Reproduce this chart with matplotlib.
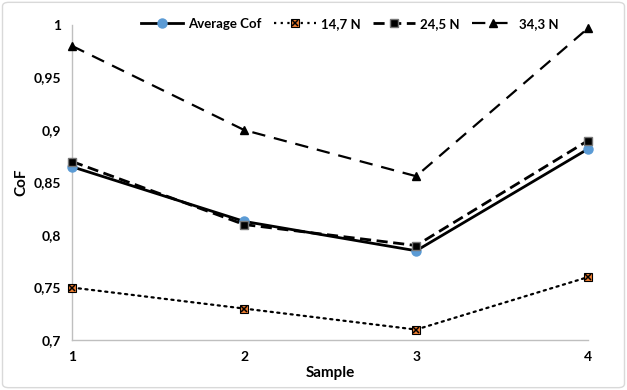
import matplotlib.pyplot as plt
from matplotlib.patches import FancyBboxPatch
from matplotlib.lines import Line2D

plt.rcParams['font.family'] = ['Lato', 'DejaVu Sans']
plt.rcParams['font.weight'] = 'bold'

samples = [1, 2, 3, 4]
avg_cof = [0.865, 0.813, 0.785, 0.882]
cof_147 = [0.75, 0.73, 0.71, 0.76]
cof_245 = [0.87, 0.81, 0.79, 0.89]
cof_343 = [0.98, 0.90, 0.856, 0.997]
yticks = [0.7, 0.75, 0.8, 0.85, 0.9, 0.95, 1.0]
ytick_labels = ['0,7', '0,75', '0,8', '0,85', '0,9', '0,95', '1']

fig = plt.figure(figsize=(6.27, 3.9), dpi=100)
ax = fig.add_axes([0.115, 0.128, 0.823, 0.808])

# 34,3 N
ax.plot(samples, cof_343, color='black', lw=1.6, dashes=(6, 4),
        marker='^', ms=6, mfc='black', mec='black', clip_on=False, zorder=3)
# 24,5 N
ax.plot(samples, cof_245, color='black', lw=2, dashes=(4, 2),
        marker='s', ms=6, mfc='black', mec='#777777', clip_on=False, zorder=4)
# Average
ax.plot(samples, avg_cof, color='black', lw=2,
        marker='o', ms=6.5, mfc='#5B9BD5', mec='#5B9BD5', clip_on=False, zorder=3)
# 14,7 N
ax.plot(samples, cof_147, color='black', lw=1.6, linestyle=(0, (1, 2)),
        dash_capstyle='round', marker='s', ms=6, mfc='#ED7D31', mec='black',
        mew=0.8, clip_on=False, zorder=3)
ax.plot(samples, cof_147, linestyle='none', marker='x', ms=5, mec='black',
        mew=1.1, clip_on=False, zorder=5)

ax.set_xlim(1, 4)
ax.set_ylim(0.7, 1.0)
ax.set_xticks(samples)
ax.set_xticklabels([str(s) for s in samples], fontsize=10, fontweight='bold')
ax.set_yticks(yticks)
ax.set_yticklabels(ytick_labels, fontsize=10, fontweight='bold')
ax.tick_params(length=0, pad=8)
ax.set_xlabel('Sample', fontsize=11, fontweight='bold', labelpad=2)
ax.set_ylabel('CoF', fontsize=11, fontweight='bold', labelpad=4)
for side in ['top', 'right']:
    ax.spines[side].set_visible(False)
for side in ['left', 'bottom']:
    ax.spines[side].set_color('#BFBFBF')
    ax.spines[side].set_linewidth(1)

h_avg = Line2D([], [], color='black', lw=2, marker='o', ms=6.5,
               mfc='#5B9BD5', mec='#5B9BD5')
h_147a = Line2D([], [], color='black', lw=1.6, linestyle=(0, (1, 2)),
                marker='s', ms=6, mfc='#ED7D31', mec='black', mew=0.8)
h_147b = Line2D([], [], linestyle='none', marker='x', ms=5, mec='black', mew=1.1)
h_245 = Line2D([], [], color='black', lw=2, dashes=(4, 2), marker='s', ms=6,
               mfc='black', mec='#777777')
h_343 = Line2D([], [], color='black', lw=1.6, dashes=(6, 4), marker='^', ms=6,
               mfc='black', mec='black')
fig.legend([h_avg, (h_147a, h_147b), h_245, h_343],
           ['Average Cof', '14,7 N', '24,5 N', '34,3 N'],
           loc='center', bbox_to_anchor=(350 / 627, 1 - 24 / 390), ncol=4,
           frameon=False, fontsize=9.5, handlelength=3.2, columnspacing=0.9,
           handletextpad=0.4)

fig.patches.append(FancyBboxPatch((0.004, 0.006), 0.992, 0.988,
                                  boxstyle='round,pad=0,rounding_size=0.01',
                                  transform=fig.transFigure, fill=False,
                                  edgecolor='#D9D9D9', lw=1))

fig.savefig('out.png', dpi=100)
